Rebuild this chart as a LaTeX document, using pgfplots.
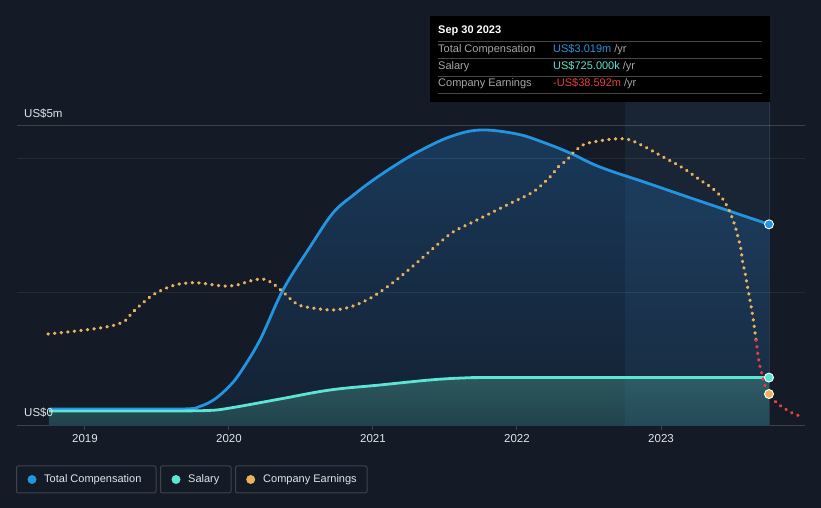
\documentclass[border=0pt]{standalone}
\usepackage{pgfplots}
\pgfplotsset{compat=1.18}
\usepackage{fontspec}
\setmainfont{Liberation Sans}
\definecolor{bg}{RGB}{21,27,38}
\definecolor{comp}{RGB}{35,148,223}
\definecolor{sal}{RGB}{92,228,212}
\definecolor{earn}{RGB}{232,178,95}
\definecolor{earnneg}{RGB}{228,64,64}
\definecolor{axc}{RGB}{62,67,76}
\definecolor{txt}{RGB}{225,228,232}
\definecolor{lbl}{RGB}{166,166,166}
\definecolor{boxc}{RGB}{62,68,78}
\definecolor{ctop}{RGB}{25,57,90}
\definecolor{cbot}{RGB}{20,33,50}
\definecolor{stop}{RGB}{44,88,92}
\definecolor{sbot}{RGB}{33,66,76}
\definecolor{hlc}{RGB}{70,140,200}
\definecolor{vlc}{RGB}{40,56,74}
\definecolor{sepc}{RGB}{70,70,70}

\pgfplotstableread{
x y
2018.75 0.254
2019.25 0.254
2019.70 0.256
2019.80 0.295
2019.90 0.400
2020.0 0.590
2020.076 0.793
2020.215 1.287
2020.375 2.036
2020.5625 2.680
2020.722 3.189
2020.86 3.450
2021.0 3.680
2021.167 3.920
2021.326 4.120
2021.535 4.330
2021.743 4.431
2022.0 4.371
2022.194 4.237
2022.368 4.087
2022.576 3.877
2022.9 3.640
2023.2 3.418
2023.5 3.200
2023.75 3.019
}\comptable

\pgfplotstableread{
x y
2018.75 0.225
2019.5 0.225
2019.85 0.232
2020.007 0.269
2020.354 0.404
2020.701 0.539
2021.049 0.614
2021.396 0.689
2021.625 0.719
2021.8 0.725
2022.5 0.725
2023.75 0.725
}\saltable

\pgfplotstableread{
x y
2018.743 1.377
2019.104 1.467
2019.264 1.557
2019.333 1.707
2019.451 1.931
2019.535 2.036
2019.625 2.111
2019.715 2.141
2019.799 2.141
2019.958 2.096
2020.056 2.111
2020.146 2.171
2020.236 2.201
2020.299 2.141
2020.368 2.021
2020.472 1.826
2020.583 1.766
2020.722 1.737
2020.840 1.781
2020.958 1.886
2021.069 2.036
2021.188 2.231
2021.326 2.485
2021.444 2.710
2021.556 2.904
2021.694 3.054
2021.833 3.204
2021.972 3.353
2022.111 3.503
2022.229 3.728
2022.285 3.877
2022.347 3.982
2022.389 4.087
2022.458 4.207
2022.528 4.251
2022.667 4.296
2022.764 4.296
2022.806 4.266
2022.903 4.162
2023.028 4.012
2023.153 3.862
2023.271 3.683
2023.354 3.563
2023.424 3.413
2023.472 3.234
2023.507 3.039
2023.535 2.829
2023.556 2.635
2023.569 2.425
2023.583 2.305
2023.597 2.126
2023.618 1.886
2023.639 1.617
2023.660 1.287
}\earntable

\pgfplotstableread{
x y
2023.660 1.287
2023.681 0.958
2023.701 0.778
2023.715 0.644
2023.729 0.569
2023.743 0.479
2023.778 0.404
2023.812 0.329
2023.854 0.269
2023.896 0.210
2023.944 0.165
2023.986 0.135
}\earnnegtable

\begin{document}
\begin{tikzpicture}
\begin{scope}[x=1pt,y=1pt]
\path[use as bounding box] (0,0) rectangle (821,508);
\fill[bg] (0,0) rectangle (821,508);
\end{scope}

\begin{axis}[
  at={(17pt,82pt)}, anchor=south west,
  scale only axis, width=788pt, height=300pt,
  xmin=2018.528, xmax=2024.0, ymin=0, ymax=4.491,
  axis x line*=bottom, axis y line=none,
  x axis line style={axc, line width=1pt, -},
  xtick={2019,2020,2021,2022,2023},
  xticklabels={2019,2020,2021,2022,2023},
  major tick length=4pt, tick align=outside,
  xtick style={axc, line width=1pt},
  xticklabel style={txt, font=\fontsize{11.5}{13}\selectfont, yshift=-1pt},
  clip=false,
]
\addplot[draw=none, top color=ctop, bottom color=cbot, smooth, tension=0.6] table[x=x,y=y] {\comptable} \closedcycle;
\addplot[draw=none, top color=stop, bottom color=sbot, smooth, tension=0.6] table[x=x,y=y] {\saltable} \closedcycle;
\fill[fill=hlc, fill opacity=0.09] (axis cs:2022.75,0) rectangle (axis cs:2023.75,4.85);
\draw[vlc, line width=1pt] (axis cs:2023.75,0) -- (axis cs:2023.75,4.85);
\draw[white, opacity=0.07, line width=1pt] (axis cs:2018.528,1.991) -- (axis cs:2024,1.991);
\draw[white, opacity=0.07, line width=1pt] (axis cs:2018.528,3.997) -- (axis cs:2024,3.997);
\draw[white, opacity=0.17, line width=1pt] (axis cs:2018.528,4.491) -- (axis cs:2024,4.491);
\addplot[comp, line width=2.8pt, smooth, tension=0.6] table[x=x,y=y] {\comptable};
\addplot[sal, line width=2.8pt, smooth, tension=0.6] table[x=x,y=y] {\saltable};
\addplot[earn, line width=3.3pt, line cap=round, dash pattern=on 0.4pt off 6.2pt, smooth, tension=0.6] table[x=x,y=y] {\earntable};
\addplot[earnneg, line width=3.3pt, line cap=round, dash pattern=on 0.4pt off 6.2pt, smooth, tension=0.6] table[x=x,y=y] {\earnnegtable};
\addplot[only marks, mark=*, mark size=4.5pt, mark options={fill=comp, draw=white, line width=0.9pt}] coordinates {(2023.75,3.019)};
\addplot[only marks, mark=*, mark size=4.5pt, mark options={fill=sal, draw=white, line width=0.9pt}] coordinates {(2023.75,0.725)};
\addplot[only marks, mark=*, mark size=4.5pt, mark options={fill=earn, draw=white, line width=0.9pt}] coordinates {(2023.75,0.479)};
\end{axis}

\begin{scope}[x=1pt,y=1pt]
\node[anchor=west, txt, font=\fontsize{11.5}{13}\selectfont, inner sep=0pt] at (24,394) {US\$5m};
\node[anchor=west, txt, font=\fontsize{11.5}{13}\selectfont, inner sep=0pt] at (24,95) {US\$0};

\fill[black] (430,492) rectangle (770,406);
\node[anchor=west, white, font=\fontsize{11}{13}\selectfont\bfseries, inner sep=0pt] at (438,477) {Sep 30 2023};
\foreach \yy in {466.3,450,431.3,414.7} {\draw[sepc, line width=0.8pt] (438,\yy) -- (762,\yy);}
\node[anchor=west, lbl, font=\fontsize{11}{13}\selectfont, inner sep=0pt] at (438,458.5) {Total Compensation};
\node[anchor=west, lbl, font=\fontsize{11}{13}\selectfont, inner sep=0pt] at (438,441.5) {Salary};
\node[anchor=west, lbl, font=\fontsize{11}{13}\selectfont, inner sep=0pt] at (438,424) {Company Earnings};
\node[anchor=west, font=\fontsize{11}{13}\selectfont, inner sep=0pt] at (553,458.5) {\textcolor{comp}{US\$3.019m} \textcolor{lbl}{/yr}};
\node[anchor=west, font=\fontsize{11}{13}\selectfont, inner sep=0pt] at (553,441.5) {\textcolor{sal}{US\$725.000k} \textcolor{lbl}{/yr}};
\node[anchor=west, font=\fontsize{11}{13}\selectfont, inner sep=0pt] at (553,424) {\textcolor{earnneg}{-US\$38.592m} \textcolor{lbl}{/yr}};

\draw[boxc, line width=1pt, rounded corners=2pt] (16.5,15) rectangle (156,42);
\fill[comp] (32,28.5) circle (4.5);
\node[anchor=west, txt, font=\fontsize{11}{13}\selectfont, inner sep=0pt] at (44,28.5) {Total Compensation};
\draw[boxc, line width=1pt, rounded corners=2pt] (160.5,15) rectangle (231,42);
\fill[sal] (176,28.5) circle (4.5);
\node[anchor=west, txt, font=\fontsize{11}{13}\selectfont, inner sep=0pt] at (188,28.5) {Salary};
\draw[boxc, line width=1pt, rounded corners=2pt] (235.5,15) rectangle (367,42);
\fill[earn] (250.7,28.5) circle (4.5);
\node[anchor=west, txt, font=\fontsize{11}{13}\selectfont, inner sep=0pt] at (263,28.5) {Company Earnings};
\end{scope}
\end{tikzpicture}
\end{document}
